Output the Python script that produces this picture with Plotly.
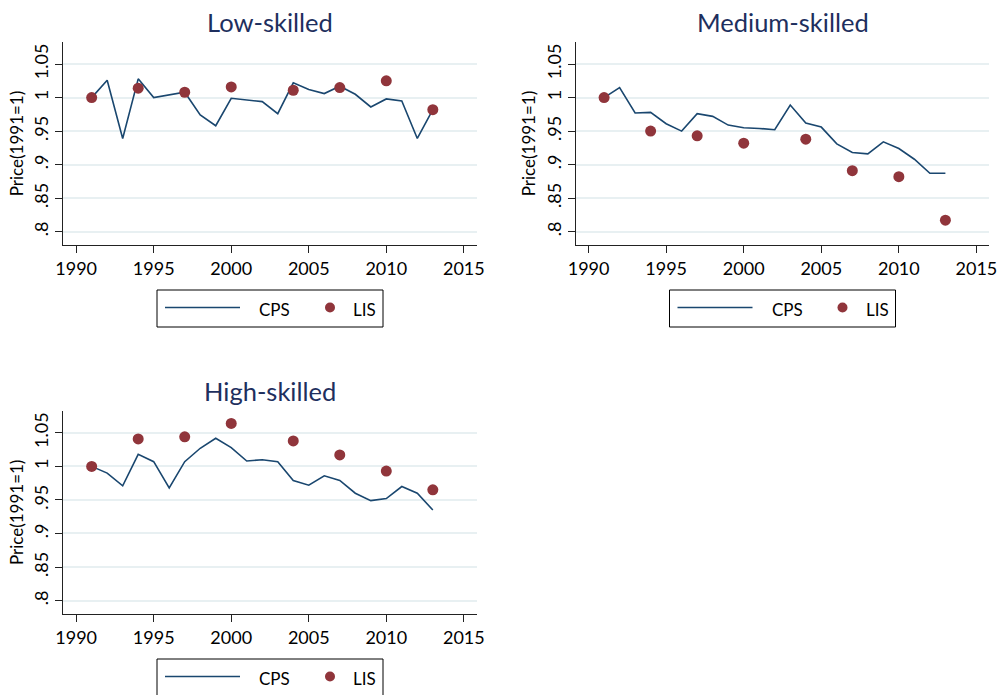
import plotly.graph_objects as go

years = list(range(1991, 2014))
lis_years = [1991, 1994, 1997, 2000, 2004, 2007, 2010, 2013]

low_cps = [1.0, 1.026, 0.939, 1.028, 1.0, 1.004, 1.008, 0.974, 0.958, 0.999, 0.996,
           0.994, 0.976, 1.022, 1.012, 1.006, 1.017, 1.005, 0.986, 0.998, 0.995, 0.939, 0.982]
low_lis = [1.0, 1.014, 1.008, 1.016, 1.011, 1.015, 1.025, 0.982]

med_cps = [1.0, 1.015, 0.977, 0.978, 0.961, 0.950, 0.976, 0.972, 0.959, 0.955, 0.954,
           0.952, 0.989, 0.962, 0.956, 0.931, 0.918, 0.916, 0.934, 0.924, 0.908, 0.887, 0.887]
med_lis = [1.0, 0.950, 0.943, 0.932, 0.938, 0.891, 0.882, 0.817]

high_cps = [1.0, 0.990, 0.971, 1.018, 1.007, 0.968, 1.007, 1.027, 1.042, 1.028, 1.008,
            1.010, 1.007, 0.979, 0.972, 0.986, 0.979, 0.960, 0.949, 0.952, 0.970, 0.960, 0.935]
high_lis = [1.0, 1.041, 1.044, 1.064, 1.038, 1.017, 0.993, 0.965]

titles = ["Low-skilled", "Medium-skilled", "High-skilled"]
legend_labels = ["CPS", "LIS"]
x_ticks = [1990, 1995, 2000, 2005, 2010, 2015]
y_ticks = [0.8, 0.85, 0.9, 0.95, 1.0, 1.05]
y_ticktext = [".8", ".85", ".9", ".95", "1", "1.05"]
y_title = "Price(1991=1)"

FONT = "Lato"
LINE_C = "#1a476f"
DOT_C = "#90353b"
TITLE_C = "#1e2f5e"
GRID_C = "#e8f0f2"
AX_C = "#222222"

W, H = 998, 695

# panel geometry in page pixels (left, right, top, bottom)
panels = [
    (63.3, 476.7, 42, 245),
    (575.7, 989.3, 42, 245),
    (63.3, 476.7, 410.7, 614),
]
data = [(low_cps, low_lis), (med_cps, med_lis), (high_cps, high_lis)]


def px(x):
    return x / W


def py(y):
    return 1 - y / H


fig = go.Figure()
layout = dict(
    width=W, height=H, margin=dict(l=0, r=0, t=0, b=0, autoexpand=False),
    paper_bgcolor="white", plot_bgcolor="white",
    font=dict(family=FONT, color="#000000"),
    showlegend=False,
)
annotations = []
shapes = []
for i, ((l, r, t, b), (cps, lis)) in enumerate(zip(panels, data)):
    n = "" if i == 0 else str(i + 1)
    xa, ya = "x" + n, "y" + n
    fig.add_trace(go.Scatter(x=years, y=cps, mode="lines", name=legend_labels[0],
                             line=dict(color=LINE_C, width=1.6),
                             xaxis=xa, yaxis=ya))
    fig.add_trace(go.Scatter(x=lis_years, y=lis, mode="markers", name=legend_labels[1],
                             marker=dict(color=DOT_C, size=11),
                             xaxis=xa, yaxis=ya))
    layout["xaxis" + n] = dict(
        domain=[px(l), px(r)], anchor=ya, range=[1989.17, 2015.83], automargin=False,
        tickvals=x_ticks, ticks="outside", ticklen=7, tickcolor=AX_C,
        showline=True, linecolor=AX_C, linewidth=1, showgrid=False, zeroline=False,
        tickfont=dict(size=18, family=FONT, color="#000"),
    )
    layout["yaxis" + n] = dict(
        domain=[py(b), py(t)], anchor=xa, range=[0.78, 1.083], automargin=False,
        tickvals=y_ticks, ticktext=y_ticktext, tickangle=-90,
        ticks="outside", ticklen=7, tickcolor=AX_C,
        showline=True, linecolor=AX_C, linewidth=1,
        showgrid=True, gridcolor=GRID_C, gridwidth=1.5, zeroline=False,
        tickfont=dict(size=18, family=FONT, color="#000"),
        title=dict(text=y_title, font=dict(size=17, family=FONT, color="#000"), standoff=2),
    )
    annotations.append(dict(
        text=titles[i], x=px((l + r) / 2), y=py(t - 20),
        xref="paper", yref="paper", xanchor="center", yanchor="middle",
        showarrow=False, font=dict(size=25.5, family=FONT, color=TITLE_C),
    ))
    # legend box drawn below each panel
    cx = (l + r) / 2
    lx0, lx1 = cx - 113, cx + 113
    ly0 = b + 45
    ly1 = ly0 + 37
    ymid = (ly0 + ly1) / 2
    shapes.append(dict(type="rect", xref="paper", yref="paper",
                       x0=px(lx0), x1=px(lx1), y0=py(ly1), y1=py(ly0),
                       line=dict(color="#000", width=1), fillcolor="white", layer="above"))
    shapes.append(dict(type="line", xref="paper", yref="paper",
                       x0=px(lx0 + 8), x1=px(lx0 + 83), y0=py(ymid - 1), y1=py(ymid - 1),
                       line=dict(color=LINE_C, width=1.6), layer="above"))
    shapes.append(dict(type="circle", xref="paper", yref="paper",
                       x0=px(cx + 60 - 5), x1=px(cx + 60 + 5),
                       y0=py(ymid - 6), y1=py(ymid + 4),
                       line=dict(color=DOT_C, width=0), fillcolor=DOT_C, layer="above"))
    annotations.append(dict(text=legend_labels[0], x=px(lx0 + 100), y=py(ymid + 1),
                            xref="paper", yref="paper", xanchor="left", yanchor="middle",
                            showarrow=False, font=dict(size=17, family=FONT, color="#000")))
    annotations.append(dict(text=legend_labels[1], x=px(cx + 81), y=py(ymid + 1),
                            xref="paper", yref="paper", xanchor="left", yanchor="middle",
                            showarrow=False, font=dict(size=17, family=FONT, color="#000")))

layout["annotations"] = annotations
layout["shapes"] = shapes
fig.update_layout(**layout)
fig.write_html(
    "out.html",
    config={"displayModeBar": False},
    post_script="document.body.style.margin='0';"
                "document.documentElement.style.overflow='hidden';",
)
